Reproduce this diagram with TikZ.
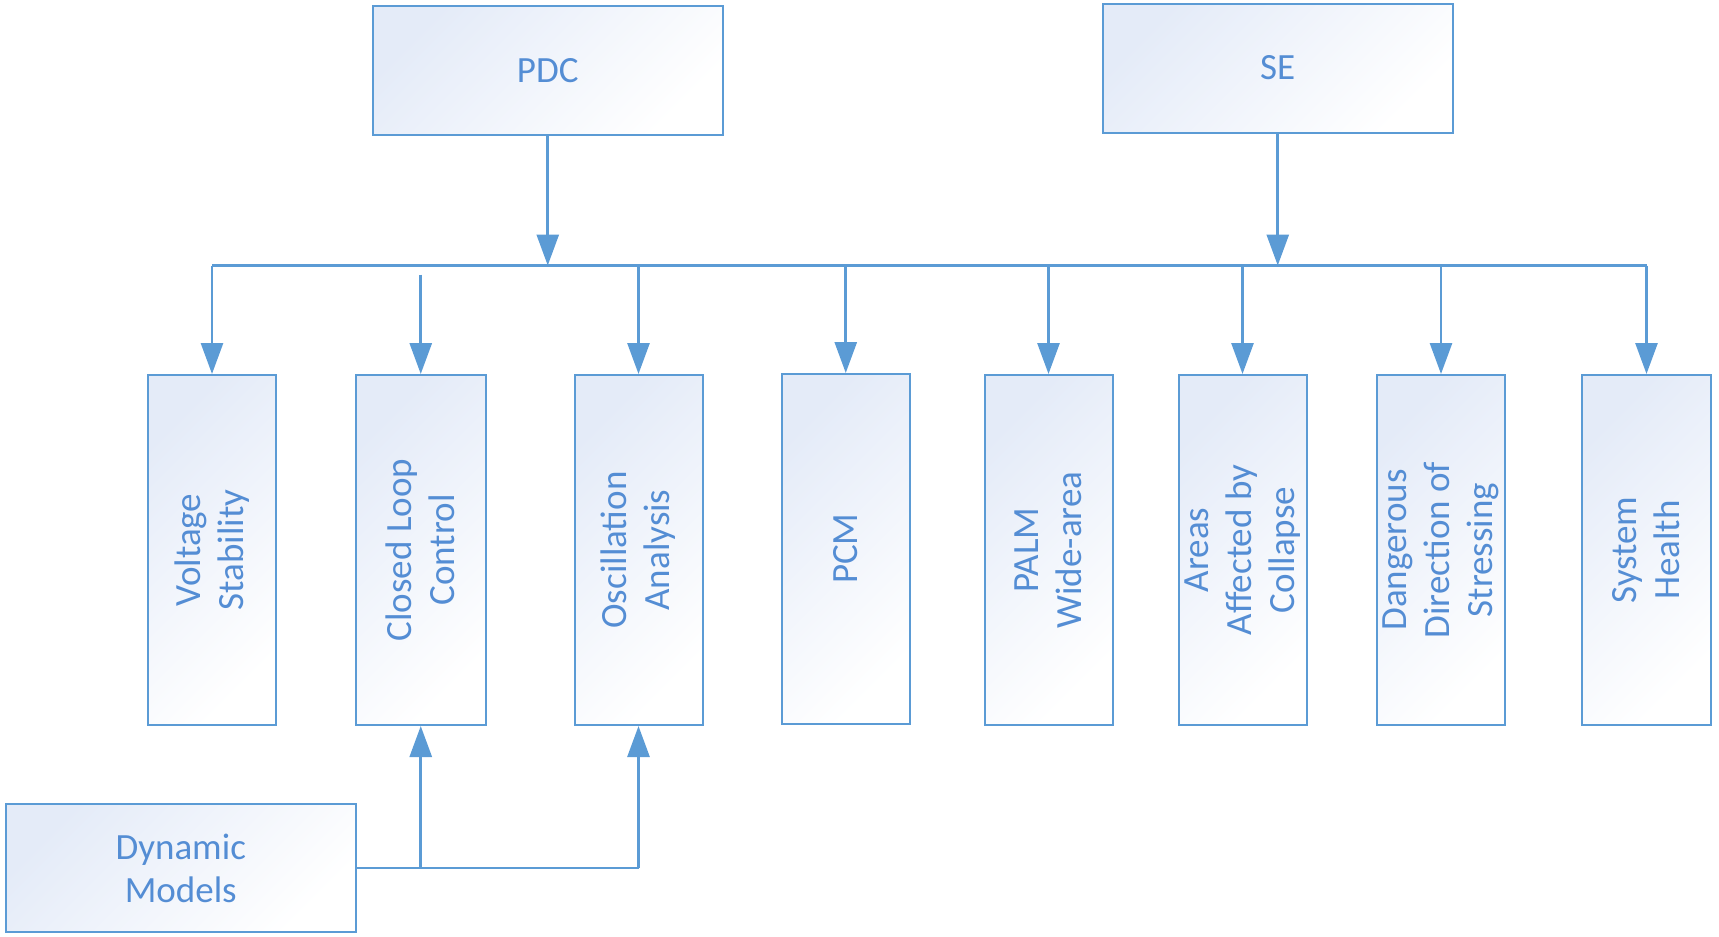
\documentclass[tikz,border=0pt]{standalone}
\usepackage{fontspec}
\setmainfont{Carlito}
\usetikzlibrary{arrows.meta,fit,calc}
\definecolor{lineblue}{RGB}{91,155,213}
\definecolor{textblue}{RGB}{84,141,212}
\definecolor{fillblue}{RGB}{228,235,248}
\tikzset{
  box/.style={draw=lineblue, line width=1pt, inner sep=0pt,
    shade, shading=axis, top color=fillblue, bottom color=white, shading angle=45},
  txt/.style={text=textblue, font=\fontsize{18.5}{21.5}\selectfont, align=center, inner sep=0pt},
  conn/.style={draw=lineblue, line width=1.4pt},
  arr/.style={conn, -{Triangle[length=15.5pt, width=11pt]}},
}
\begin{document}
\begin{tikzpicture}[x=0.5pt, y=-0.5pt]
  \useasboundingbox (0,0) rectangle (1719,937);

  % sources
  \node[box, fit={(373,5.5) (722.5,135)}] (pdc) {};
  \node[txt] at (pdc) {PDC};
  \node[box, fit={(1103,3.5) (1452.5,132.5)}] (se) {};
  \node[txt] at (se) {SE};

  % applications
  \node[box, fit={(148,375) (276,725)}] (vs) {};
  \node[txt, rotate=90] at (vs) {Voltage\\Stability};
  \node[box, fit={(356,375) (485.5,725)}] (cl) {};
  \node[txt, rotate=90] at (cl) {Closed Loop\\Control};
  \node[box, fit={(574.5,375) (702.5,725)}] (osc) {};
  \node[txt, rotate=90] at (osc) {Oscillation\\Analysis};
  \node[box, fit={(781.5,374) (910,723.5)}] (pcm) {};
  \node[txt, rotate=90] at (pcm) {PCM};
  \node[box, fit={(984.5,375) (1112.5,725)}] (palm) {};
  \node[txt, rotate=90] at (palm) {PALM\\Wide-area};
  \node[box, fit={(1178.5,375) (1306.5,725)}] (areas) {};
  \node[txt, rotate=90] at (areas) {Areas\\Affected by\\Collapse};
  \node[box, fit={(1377,375) (1505,725)}] (dds) {};
  \node[txt, rotate=90] at (dds) {Dangerous\\Direction of\\Stressing};
  \node[box, fit={(1582,375) (1711,725)}] (sh) {};
  \node[txt, rotate=90] at (sh) {System\\Health};

  % model input
  \node[box, fit={(5.5,804) (356,932)}] (dm) {};
  \node[txt] at (dm) {Dynamic\\Models};

  % distribution bus
  \coordinate (bus) at (0,265.5);
  \draw[conn] (vs.north |- bus) -- (sh.north |- bus);
  \draw[arr] (pdc.south) -- (pdc.south |- bus);
  \draw[arr] (se.south) -- (se.south |- bus);

  \draw[arr] (vs.north |- bus) -- (vs.north);
  \draw[arr] ($(cl.north |- bus)+(0,9)$) -- (cl.north);
  \draw[arr] (osc.north |- bus) -- (osc.north);
  \draw[arr] (pcm.north |- bus) -- (pcm.north);
  \draw[arr] (palm.north |- bus) -- (palm.north);
  \draw[arr] (areas.north |- bus) -- (areas.north);
  \draw[arr] (dds.north |- bus) -- (dds.north);
  \draw[arr] (sh.north |- bus) -- (sh.north);

  % model feeds
  \draw[conn] (dm.east) -- (osc.south |- dm.east);
  \draw[arr] (cl.south |- dm.east) -- (cl.south);
  \draw[arr] (osc.south |- dm.east) -- (osc.south);
\end{tikzpicture}
\end{document}
